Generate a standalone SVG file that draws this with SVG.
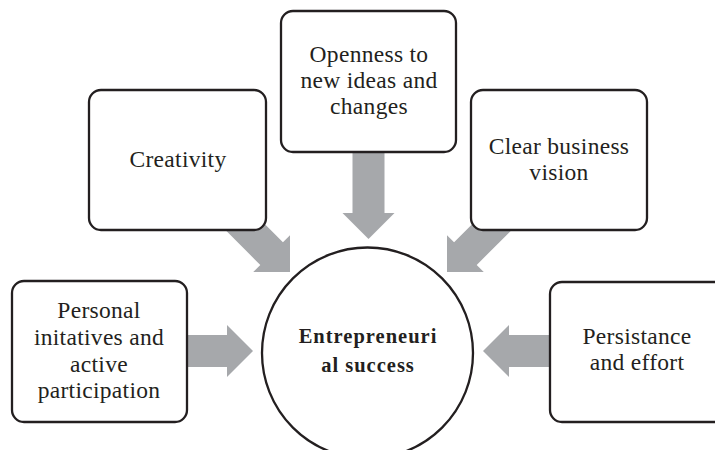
<svg xmlns="http://www.w3.org/2000/svg" xmlns:xlink="http://www.w3.org/1999/xlink" width="715" height="450" viewBox="0 0 715 450">
  <style>
    .box { fill: #ffffff; stroke: #231f20; stroke-width: 2.3; }
    .hub { fill: #ffffff; stroke: #231f20; stroke-width: 2.3; }
    .label { font-family: "Liberation Serif", "Times New Roman", serif; font-size: 23.5px; letter-spacing: 0.3px; fill: #231f20; text-anchor: middle; }
    .hub-label { font-family: "Liberation Serif", "Times New Roman", serif; font-size: 20.5px; font-weight: bold; letter-spacing: 1px; fill: #231f20; text-anchor: middle; }
    .arrow { fill: #a6a8ab; }
  </style>
  <defs>
    <!-- block arrow pointing along +x, tip at the origin -->
    <path id="block-arrow" class="arrow" d="M-100,-16 H-26 V-26 L0,0 L-26,26 V16 H-100 Z"/>
  </defs>
  <rect width="715" height="450" fill="#ffffff"/>

  <!-- connectors: drawn first so the boxes hide the arrow tails -->
  <g id="connectors">
    <use xlink:href="#block-arrow" transform="translate(253,351)"/>
    <use xlink:href="#block-arrow" transform="translate(483,351) rotate(180)"/>
    <use xlink:href="#block-arrow" transform="translate(368.5,239) rotate(90)"/>
    <use xlink:href="#block-arrow" transform="translate(290,272) rotate(45)"/>
    <use xlink:href="#block-arrow" transform="translate(447,272) rotate(135)"/>
  </g>

  <g id="node-creativity">
    <rect class="box" x="89" y="90" width="177" height="140" rx="12"/>
    <text class="label" x="178" y="167">Creativity</text>
  </g>

  <g id="node-openness">
    <rect class="box" x="281" y="11" width="175" height="141" rx="12"/>
    <text class="label" x="369" y="62">Openness to</text>
    <text class="label" x="369" y="88">new ideas and</text>
    <text class="label" x="369" y="114">changes</text>
  </g>

  <g id="node-vision">
    <rect class="box" x="471" y="90" width="176" height="140" rx="12"/>
    <text class="label" x="559" y="154">Clear business</text>
    <text class="label" x="559" y="180">vision</text>
  </g>

  <g id="node-personal">
    <rect class="box" x="12" y="281" width="175" height="141" rx="12"/>
    <text class="label" x="99" y="318">Personal</text>
    <text class="label" x="99" y="345">initatives and</text>
    <text class="label" x="99" y="372">active</text>
    <text class="label" x="99" y="398">participation</text>
  </g>

  <g id="node-persistance">
    <rect class="box" x="550" y="282" width="180" height="140" rx="12"/>
    <text class="label" x="637" y="344">Persistance</text>
    <text class="label" x="637" y="370">and effort</text>
  </g>

  <g id="node-success">
    <circle class="hub" cx="367.5" cy="353" r="105.5"/>
    <text class="hub-label" x="368" y="343">Entrepreneuri</text>
    <text class="hub-label" x="368" y="372">al success</text>
  </g>
</svg>
